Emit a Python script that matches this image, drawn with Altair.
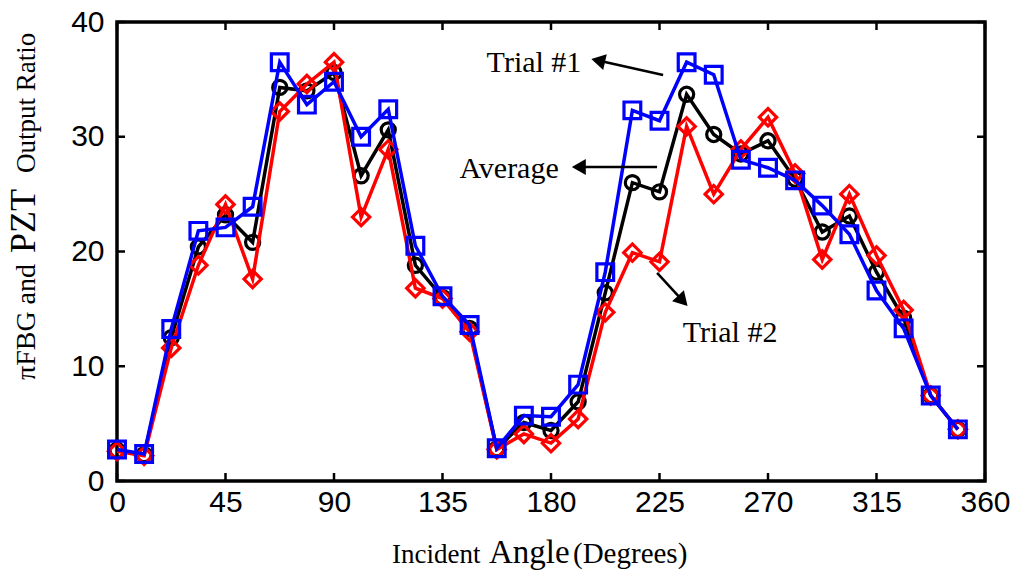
import altair as alt
import pandas as pd

# ---------------- data ----------------
angles = [0, 11.25, 22.5, 33.75, 45, 56.25, 67.5, 78.75, 90, 101.25, 112.5, 123.75,
          135, 146.25, 157.5, 168.75, 180, 191.25, 202.5, 213.75, 225, 236.25, 247.5,
          258.75, 270, 281.25, 292.5, 303.75, 315, 326.25, 337.5, 348.75]
trial1 = [2.75, 2.35, 13.25, 21.8, 22.1, 23.9, 36.5, 32.8, 34.8, 30.0, 32.4, 20.5,
          16.1, 13.6, 2.85, 5.7, 5.6, 8.4, 18.2, 32.3, 31.4, 36.5, 35.4,
          28.0, 27.3, 26.2, 24.0, 21.5, 16.6, 13.3, 7.45, 4.5]
trial2 = [2.6, 2.2, 11.6, 18.8, 24.1, 17.6, 32.2, 34.6, 36.5, 23.0, 28.9, 16.8,
          15.9, 13.0, 2.75, 4.1, 3.3, 5.4, 14.7, 19.9, 19.1, 30.9, 25.0,
          28.9, 31.7, 26.8, 19.3, 25.0, 19.65, 14.9, 7.45, 4.5]
average = [2.7, 2.3, 12.5, 20.4, 23.2, 20.8, 34.3, 34.0, 35.6, 26.6, 30.6, 18.8,
           16.0, 13.3, 2.8, 5.1, 4.4, 6.9, 16.4, 26.0, 25.2, 33.7, 30.2,
           28.5, 29.65, 26.3, 21.7, 23.1, 18.2, 14.2, 7.45, 4.5]

x_ticks = [0, 45, 90, 135, 180, 225, 270, 315, 360]
y_ticks = [0, 10, 20, 30, 40]

# annotations (data units)
ann_text = ["Trial #1", "Average", "Trial #2"]
ann_x = [153.3, 142.0, 234.6]
ann_y = [35.64, 26.4, 12.1]
arrow_x1 = [226.5, 224.0, 224.0]
arrow_y1 = [35.38, 27.36, 18.13]
arrow_x2 = [200.5, 192.5, 234.0]
arrow_y2 = [36.6, 27.36, 15.85]
arrow_rot = [282.7, 270, 136.8]

W, H = 868, 459

df = pd.DataFrame({"angle": angles, "t1": trial1, "t2": trial2, "avg": average})

xscale = alt.Scale(domain=[0, 360], nice=False, zero=False)
yscale = alt.Scale(domain=[0, 40], nice=False, zero=True)

x_axis = alt.Axis(values=x_ticks, title=None, labelFont="Liberation Sans",
                  labelFontSize=30, labelColor="black", ticks=False, tickSize=0,
                  domain=False, grid=False, labelPadding=6, labelFlush=False,
                  labelOverlap=False)
y_axis = alt.Axis(values=y_ticks, title=None, labelFont="Liberation Sans",
                  labelFontSize=30, labelColor="black", ticks=False, tickSize=0,
                  domain=False, grid=False, labelPadding=13, labelOverlap=False)

def X(field):
    return alt.X(field, scale=xscale, axis=x_axis)

def Y(field):
    return alt.Y(field, scale=yscale, axis=y_axis)

def series(col, color, shape, size):
    base = alt.Chart(df).encode(x=X("angle:Q"), y=Y(f"{col}:Q"))
    line = base.mark_line(color=color, strokeWidth=3.5)
    pts = base.mark_point(shape=shape, color=color, size=size, strokeWidth=3.2,
                          filled=False, opacity=1)
    return line + pts

avg_layer = series("avg", "black", "circle", 200)
t2_layer = series("t2", "#ff0000", "diamond", 300)
t1_layer = series("t1", "#0000ff", "square", 280)

# inward ticks on all four sides
xt_df = pd.DataFrame({"v": x_ticks})
yt_df = pd.DataFrame({"v": y_ticks})
tick_style = dict(color="black", strokeWidth=2.5)
xtick_b = alt.Chart(xt_df).mark_rule(**tick_style).encode(
    x=X("v:Q"), y=alt.value(H), y2=alt.value(H - 8))
xtick_t = alt.Chart(xt_df).mark_rule(**tick_style).encode(
    x=X("v:Q"), y=alt.value(0), y2=alt.value(8))
ytick_l = alt.Chart(yt_df).mark_rule(**tick_style).encode(
    y=Y("v:Q"), x=alt.value(0), x2=alt.value(8))
ytick_r = alt.Chart(yt_df).mark_rule(**tick_style).encode(
    y=Y("v:Q"), x=alt.value(W), x2=alt.value(W - 8))

# annotations
ann_df = pd.DataFrame({"label": ann_text, "x": ann_x, "y": ann_y,
                       "x1": arrow_x1, "y1": arrow_y1, "x2": arrow_x2, "y2": arrow_y2,
                       "rot": arrow_rot})
ann_txt = alt.Chart(ann_df).mark_text(align="left", baseline="alphabetic",
                                      font="Liberation Serif", fontSize=30,
                                      color="black").encode(
    x=X("x:Q"), y=Y("y:Q"), text="label:N")
ann_shaft = alt.Chart(ann_df).mark_rule(color="black", strokeWidth=2.5).encode(
    x=X("x1:Q"), x2="x2:Q", y=Y("y1:Q"), y2="y2:Q")
ann_head = alt.Chart(ann_df).mark_point(shape="triangle", filled=True, color="black",
                                        size=260, opacity=1).encode(
    x=X("x2:Q"), y=Y("y2:Q"), angle=alt.Angle("rot:Q", scale=None))

# axis titles built from pieces with mixed font sizes
def piece(text, px, py, size, angle=0, align="left"):
    kw = dict(font="Liberation Serif", fontSize=size, color="black",
              baseline="alphabetic", align=align)
    if angle:
        kw["angle"] = angle
    d = pd.DataFrame({"label": [text]})
    return alt.Chart(d).mark_text(**kw).encode(
        x=alt.value(px), y=alt.value(py), text="label:N")

title_layers = [
    piece("Incident", 275, 541, 27),
    piece("Angle", 372, 541, 33),
    piece("(Degrees)", 456, 541, 29),
    piece("Output Ratio", -82, 151, 27, angle=270, align="left"),
    piece("PZT", -82, 231, 36, angle=270, align="left"),
    piece("\u03c0FBG and", -82, 358, 28, angle=270, align="left"),
]

chart = alt.layer(
    avg_layer, t2_layer, t1_layer,
    xtick_b, xtick_t, ytick_l, ytick_r,
    ann_shaft, ann_head, ann_txt, *title_layers,
).properties(
    width=W, height=H,
    autosize=alt.AutoSizeParams(type="none"),
    padding={"left": 117, "top": 22, "right": 36, "bottom": 91},
    background="white",
).configure_view(stroke="black", strokeWidth=3.5)

chart.save("out.html", embed_options={"renderer": "svg", "actions": False})
